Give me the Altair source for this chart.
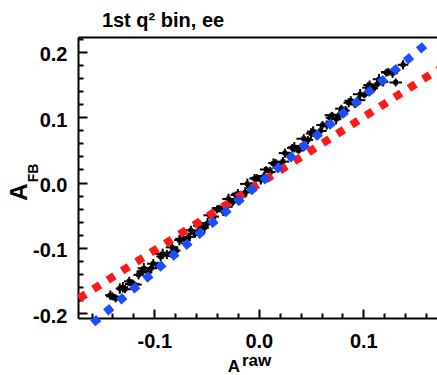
import altair as alt
import pandas as pd

# ---- data ----
x_vals = [-0.142, -0.137, -0.133, -0.128, -0.124, -0.119, -0.115, -0.110,
          -0.106, -0.101, -0.097, -0.092, -0.088, -0.083, -0.079, -0.074,
          -0.070, -0.065, -0.061, -0.056, -0.052, -0.047, -0.043, -0.038,
          -0.034, -0.029, -0.025, -0.020, -0.016, -0.011, -0.007, -0.002,
          0.002, 0.007, 0.011, 0.016, 0.020, 0.025, 0.029, 0.034,
          0.038, 0.043, 0.047, 0.052, 0.056, 0.061, 0.065, 0.070,
          0.074, 0.079, 0.083, 0.088, 0.092, 0.097, 0.101, 0.106,
          0.110, 0.115, 0.119, 0.124, 0.128, 0.131, 0.138]
y_vals = [-0.172, -0.177, -0.162, -0.163, -0.151, -0.156, -0.141, -0.131,
          -0.137, -0.124, -0.126, -0.109, -0.110, -0.099, -0.104, -0.086,
          -0.088, -0.073, -0.078, -0.065, -0.069, -0.050, -0.052, -0.039,
          -0.044, -0.025, -0.030, -0.017, -0.020, -0.002, -0.006, 0.007,
          0.004, 0.020, 0.016, 0.030, 0.026, 0.045, 0.041, 0.054,
          0.049, 0.067, 0.065, 0.078, 0.072, 0.088, 0.088, 0.103,
          0.097, 0.113, 0.110, 0.125, 0.120, 0.135, 0.134, 0.149,
          0.144, 0.158, 0.154, 0.169, 0.167, 0.153, 0.180]
x_err = [0.005, 0.006, 0.004, 0.006, 0.005, 0.007, 0.005, 0.006,
         0.004, 0.006, 0.005, 0.007, 0.005, 0.006, 0.004, 0.006,
         0.005, 0.007, 0.005, 0.006, 0.004, 0.006, 0.005, 0.007,
         0.005, 0.006, 0.004, 0.006, 0.005, 0.007, 0.005, 0.006,
         0.004, 0.006, 0.005, 0.007, 0.005, 0.006, 0.004, 0.006,
         0.005, 0.007, 0.005, 0.006, 0.004, 0.006, 0.005, 0.007,
         0.005, 0.006, 0.004, 0.006, 0.005, 0.007, 0.005, 0.006,
         0.004, 0.006, 0.005, 0.007, 0.005, 0.006, 0.005]
y_err = [0.007, 0.006, 0.008, 0.006, 0.007, 0.005, 0.007, 0.008,
         0.006, 0.007, 0.005, 0.008, 0.007, 0.006, 0.007, 0.008,
         0.006, 0.007, 0.005, 0.007, 0.008, 0.006, 0.007, 0.005,
         0.007, 0.008, 0.006, 0.007, 0.005, 0.008, 0.007, 0.006,
         0.007, 0.005, 0.008, 0.006, 0.007, 0.007, 0.006, 0.008,
         0.005, 0.007, 0.006, 0.008, 0.007, 0.006, 0.007, 0.005,
         0.008, 0.006, 0.007, 0.007, 0.006, 0.008, 0.005, 0.007,
         0.006, 0.008, 0.007, 0.006, 0.007, 0.006, 0.007]

# second group of points lying between the first ones
x_vals_b = [-0.140, -0.130, -0.121, -0.112, -0.103, -0.094, -0.085, -0.076,
            -0.067, -0.058, -0.049, -0.040, -0.031, -0.022, -0.013, -0.004,
            0.005, 0.014, 0.023, 0.032, 0.041, 0.050, 0.059, 0.068,
            0.077, 0.086, 0.095, 0.104, 0.113, 0.122]
y_vals_b = [-0.174, -0.160, -0.155, -0.136, -0.131, -0.113, -0.109, -0.088,
            -0.083, -0.066, -0.062, -0.041, -0.037, -0.019, -0.015, 0.006,
            0.010, 0.029, 0.032, 0.053, 0.056, 0.075, 0.079, 0.099,
            0.103, 0.122, 0.126, 0.145, 0.150, 0.168]
x_err_b = [0.006, 0.005, 0.007, 0.005, 0.006, 0.004, 0.006, 0.005,
           0.007, 0.005, 0.006, 0.004, 0.006, 0.005, 0.007, 0.005,
           0.006, 0.004, 0.006, 0.005, 0.007, 0.005, 0.006, 0.004,
           0.006, 0.005, 0.007, 0.005, 0.006, 0.005]
y_err_b = [0.006, 0.008, 0.007, 0.006, 0.008, 0.007, 0.005, 0.008,
           0.006, 0.007, 0.008, 0.006, 0.007, 0.005, 0.008, 0.007,
           0.006, 0.008, 0.007, 0.006, 0.005, 0.008, 0.007, 0.006,
           0.008, 0.007, 0.006, 0.008, 0.007, 0.006]

red_x = [-0.172, 0.172]
red_y = [-0.177, 0.173]
blue_x = [-0.159, 0.161]
blue_y = [-0.215, 0.213]

x_major = [-0.1, 0.0, 0.1]
x_minor = [-0.16, -0.14, -0.12, -0.08, -0.06, -0.04, -0.02,
           0.02, 0.04, 0.06, 0.08, 0.12, 0.14, 0.16]
y_major = [-0.2, -0.1, 0.0, 0.1, 0.2]
y_minor = [-0.18, -0.16, -0.14, -0.12, -0.08, -0.06, -0.04, -0.02,
           0.02, 0.04, 0.06, 0.08, 0.12, 0.14, 0.16, 0.18, 0.22]

title_text = "1st q\u00b2 bin, ee"
ytitle_main, ytitle_sub = "A", "FB"
xtitle_main, xtitle_sup = "A", "raw"

# ---- layout ----
FONT = "Liberation Sans"
PAD_L, PAD_T = 78, 37
W, H = 359, 281
X_DOM = [-0.173, 0.1705]
Y_DOM = [-0.207, 0.2225]

all_x = x_vals + x_vals_b
all_y = y_vals + y_vals_b
all_xe = x_err + x_err_b
all_ye = y_err + y_err_b
pts = pd.DataFrame({
    "x": all_x, "y": all_y,
    "xlo": [a - e for a, e in zip(all_x, all_xe)],
    "xhi": [a + e for a, e in zip(all_x, all_xe)],
    "ylo": [a - e for a, e in zip(all_y, all_ye)],
    "yhi": [a + e for a, e in zip(all_y, all_ye)],
})
red = pd.DataFrame({"x": red_x, "y": red_y})
blue = pd.DataFrame({"x": blue_x, "y": blue_y})

xs = alt.Scale(domain=X_DOM, nice=False, zero=False)
ys = alt.Scale(domain=Y_DOM, nice=False, zero=False)

label_expr = "datum.value < 0 ? '-' + format(-datum.value, '.1f') : format(datum.value, '.1f')"


def tick_axis(orient, values, size):
    return alt.Axis(orient=orient, values=values, tickSize=size, offset=-size,
                    labels=False, domain=False, grid=False, title=None,
                    ticks=True, tickColor="black", tickWidth=2)


label_x_axis = alt.Axis(orient="bottom", values=x_major, ticks=False, grid=False,
                        domain=True, domainColor="black", domainWidth=2,
                        labelExpr=label_expr, labelFont=FONT, labelFontSize=20,
                        labelFontWeight="bold", labelColor="black",
                        labelPadding=13, title=None)
label_y_axis = alt.Axis(orient="left", values=y_major, ticks=False, grid=False,
                        domain=True, domainColor="black", domainWidth=2,
                        labelExpr=label_expr, labelFont=FONT, labelFontSize=20,
                        labelFontWeight="bold", labelColor="black",
                        labelPadding=11, labelOffset=3, title=None)
top_axis = alt.Axis(orient="top", ticks=False, labels=False, grid=False,
                    domain=True, domainColor="black", domainWidth=2, title=None)

err_x = alt.Chart(pts).mark_rule(color="black", strokeWidth=2).encode(
    x=alt.X("xlo:Q", scale=xs, axis=tick_axis("bottom", x_major, 9)),
    x2="xhi:Q",
    y=alt.Y("y:Q", scale=ys, axis=tick_axis("left", y_major, 9)),
)
err_y = alt.Chart(pts).mark_rule(color="black", strokeWidth=2).encode(
    x=alt.X("x:Q", scale=xs, axis=tick_axis("bottom", x_minor, 5)),
    y=alt.Y("ylo:Q", scale=ys, axis=tick_axis("left", y_minor, 5)),
    y2="yhi:Q",
)
points = alt.Chart(pts).mark_point(shape="square", filled=True, size=22,
                                   color="black", opacity=1).encode(
    x=alt.X("x:Q", scale=xs, axis=label_x_axis),
    y=alt.Y("y:Q", scale=ys, axis=label_y_axis),
)
red_line = alt.Chart(red).mark_line(color="#ff1a1a", strokeWidth=8,
                                    strokeDash=[8, 9], strokeCap="butt").encode(
    x=alt.X("x:Q", scale=xs, axis=top_axis),
    y=alt.Y("y:Q", scale=ys, axis=None),
)
blue_line = alt.Chart(blue).mark_line(color="#1c4dff", strokeWidth=8,
                                      strokeDash=[8, 9], strokeCap="butt").encode(
    x=alt.X("x:Q", scale=xs, axis=None),
    y=alt.Y("y:Q", scale=ys, axis=None),
)


def text_layer(txt, x, y, size, angle=0, align="center", baseline="alphabetic"):
    kw = dict(font=FONT, fontSize=size, fontWeight="bold", color="black",
              align=align, baseline=baseline)
    if angle:
        kw["angle"] = angle
    return alt.Chart(pd.DataFrame({"t": [txt]})).mark_text(**kw).encode(
        x=alt.value(x), y=alt.value(y), text="t:N")


title = text_layer(title_text, 163 - PAD_L, 27 - PAD_T, 20)
yt_main = text_layer(ytitle_main, 27 - PAD_L, 192 - PAD_T, 24, angle=270)
yt_sub = text_layer(ytitle_sub, 38 - PAD_L, 173 - PAD_T, 14, angle=270)
xt_main = text_layer(xtitle_main, 234 - PAD_L, 372 - PAD_T, 17)
xt_sup = text_layer(xtitle_sup, 242 - PAD_L, 366 - PAD_T, 17, align="left")

chart = alt.layer(
    err_x, err_y, points, red_line, blue_line,
    title, yt_main, yt_sub, xt_main, xt_sup,
).resolve_axis(x="independent", y="independent").properties(
    width=W, height=H,
    autosize=alt.AutoSizeParams(type="none"),
    padding={"left": PAD_L, "top": PAD_T, "right": 0, "bottom": 375 - PAD_T - H},
).configure_view(stroke=None).configure(background="white")

chart.save("out.html", embed_options={"renderer": "svg", "actions": False})
